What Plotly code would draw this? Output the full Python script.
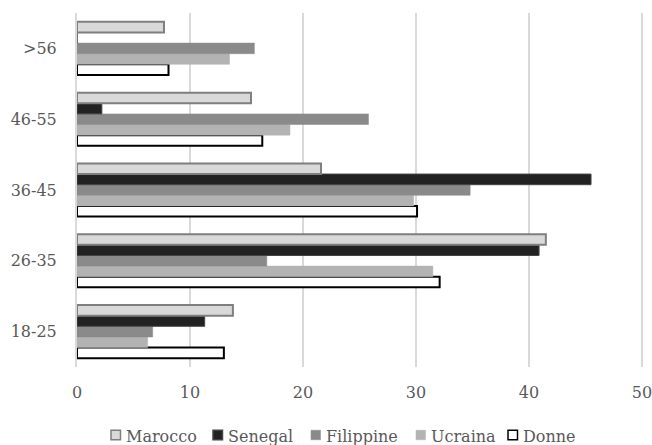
import plotly.graph_objects as go

# Age bands (bottom to top)
age_groups = ["18-25", "26-35", "36-45", "46-55", ">56"]

# Percentage of each group by age band
marocco = [13.8, 41.5, 21.6, 15.4, 7.7]
senegal = [11.3, 40.9, 45.5, 2.2, 0.0]
filippine = [6.7, 16.8, 34.8, 25.8, 15.7]
ucraina = [6.25, 31.5, 29.8, 18.85, 13.5]
donne = [13.0, 32.1, 30.1, 16.4, 8.1]

x_ticks = [0, 10, 20, 30, 40, 50]

series = [
    ("Marocco", marocco, "#d9d9d9", "#7f7f7f", 2),
    ("Senegal", senegal, "#222222", "#444444", 1),
    ("Filippine", filippine, "#8a8a8a", "#8a8a8a", 0.5),
    ("Ucraina", ucraina, "#b3b3b3", "#b3b3b3", 0.5),
    ("Donne", donne, "#ffffff", "#000000", 2),
]

W, H = 652, 445
L, R, T, B = 77, 9, 13, 78
plot_w, plot_h = W - L - R, H - T - B


def px_x(px):
    return (px - L) / plot_w


def px_y(py):
    return (H - B - py) / plot_h


fig = go.Figure()
# Horizontal grouped bars stack upward from the first trace, so add in reverse
for name, vals, fill, line, lw in reversed(series):
    fig.add_trace(go.Bar(
        y=age_groups, x=vals, name=name, orientation="h",
        marker=dict(color=fill, line=dict(color=line, width=lw)),
        showlegend=False,
    ))

font = dict(family="DejaVu Serif", size=16, color="#595959")

# Legend row below the axis: small square swatch followed by its label
legend_left = [111, 213, 311, 416, 508]
swatch = 9.5
legend_y = 435
for (name, _, fill, line, lw), lx in zip(series, legend_left):
    edge = line if lw >= 1 else fill
    fig.add_shape(
        type="rect", xref="paper", yref="paper",
        x0=px_x(lx), x1=px_x(lx + swatch),
        y0=px_y(legend_y + swatch / 2), y1=px_y(legend_y - swatch / 2),
        fillcolor=fill, line=dict(color=edge, width=1.5 if lw >= 1 else 0.5),
    )
    fig.add_annotation(
        xref="paper", yref="paper", x=px_x(lx + swatch + 3), y=px_y(legend_y + 1),
        text=name, showarrow=False, xanchor="left", yanchor="middle",
        font=font,
    )

fig.update_layout(
    width=W, height=H,
    margin=dict(l=L, r=R, t=T, b=B, autoexpand=False),
    paper_bgcolor="white", plot_bgcolor="white",
    barmode="group", bargap=0.25, bargroupgap=0,
    font=font,
    showlegend=False,
    xaxis=dict(range=[0, 50.1], tickvals=x_ticks, showgrid=True,
               gridcolor="#d9d9d9", gridwidth=1.5, zeroline=False,
               showline=False, ticks="", tickfont=font,
               ticklabelstandoff=14, ticklabeloverflow="allow",
               automargin=False),
    yaxis=dict(categoryorder="array", categoryarray=age_groups,
               showline=True, linecolor="#d9d9d9", linewidth=2,
               ticks="", ticklabelstandoff=15, tickfont=font,
               showgrid=False, automargin=False),
)

fig.write_html("out.html")
